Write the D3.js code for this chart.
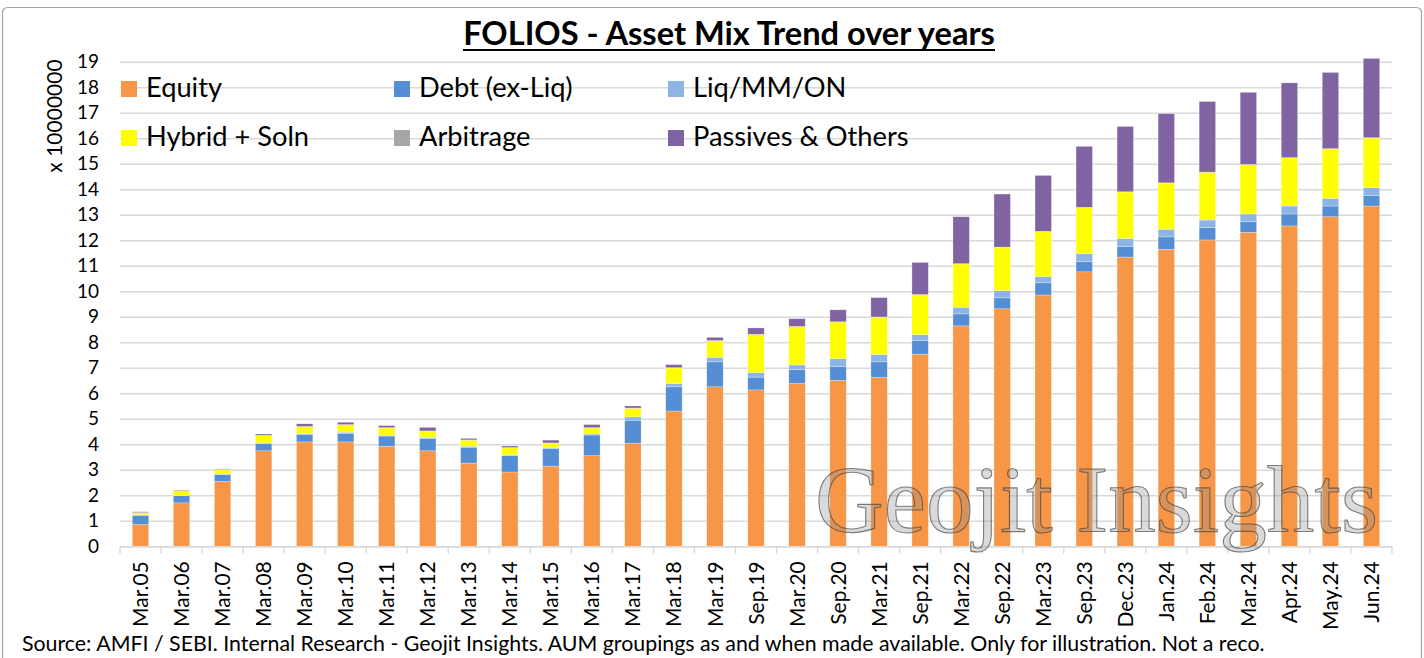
<!DOCTYPE html>
<html>
<head>
<meta charset="utf-8">
<script src="https://cdn.jsdelivr.net/npm/d3@7"></script>
<style>
  html, body { margin: 0; padding: 0; background: #fff; }
  svg { display: block; }
</style>
</head>
<body>
<svg id="chart" width="1424" height="658"></svg>
<script>
// values in units of 1 crore (x 10000000) folios
const categories = ["Mar.05","Mar.06","Mar.07","Mar.08","Mar.09","Mar.10","Mar.11","Mar.12","Mar.13","Mar.14",
  "Mar.15","Mar.16","Mar.17","Mar.18","Mar.19","Sep.19","Mar.20","Sep.20","Mar.21","Sep.21","Mar.22",
  "Sep.22","Mar.23","Sep.23","Dec.23","Jan.24","Feb.24","Mar.24","Apr.24","May.24","Jun.24"];
const equity    = [0.85,1.70,2.54,3.74,4.09,4.09,3.92,3.74,3.26,2.91,3.14,3.55,4.04,5.30,6.25,6.13,6.38,6.50,6.62,7.53,8.64,9.31,9.85,10.76,11.34,11.64,12.01,12.31,12.56,12.92,13.34];
const debt      = [0.36,0.28,0.27,0.28,0.30,0.34,0.40,0.49,0.62,0.64,0.69,0.81,0.90,0.95,0.98,0.50,0.54,0.55,0.61,0.53,0.47,0.43,0.48,0.41,0.42,0.49,0.48,0.42,0.47,0.42,0.42];
const liq       = [0.03,0.02,0.02,0.03,0.03,0.04,0.03,0.04,0.04,0.03,0.03,0.04,0.13,0.13,0.18,0.18,0.19,0.31,0.29,0.24,0.26,0.28,0.24,0.30,0.31,0.30,0.30,0.30,0.31,0.30,0.30];
const hybrid    = [0.08,0.18,0.18,0.29,0.27,0.29,0.29,0.24,0.24,0.28,0.18,0.24,0.34,0.61,0.65,1.49,1.50,1.43,1.46,1.56,1.70,1.70,1.77,1.81,1.82,1.81,1.87,1.93,1.89,1.94,1.95];
const arbitrage = [0,0,0,0.01,0.01,0.01,0.01,0.01,0.01,0.01,0.01,0.01,0.01,0.01,0.01,0.01,0.01,0.01,0.01,0.01,0.01,0.01,0.01,0.01,0.01,0.01,0.01,0.01,0.01,0.01,0.01];
const passives  = [0.03,0.02,0.02,0.05,0.10,0.09,0.08,0.14,0.06,0.06,0.11,0.12,0.08,0.12,0.12,0.25,0.30,0.47,0.76,1.26,1.84,2.08,2.19,2.39,2.56,2.71,2.77,2.83,2.93,2.99,3.11];

const seriesNames = ["Equity","Debt (ex-Liq)","Liq/MM/ON","Hybrid + Soln","Arbitrage","Passives & Others"];
const seriesColors = ["#F79646","#558ED5","#8EB4E3","#FFFF00","#A6A6A6","#8064A2"];
const yTicks = d3.range(0, 20);

const titleText = "FOLIOS - Asset Mix Trend over years";
const yLabel = "x 10000000";
const sourceText = "Source: AMFI / SEBI. Internal Research - Geojit Insights. AUM groupings as and when made available. Only for illustration. Not a reco.";
const watermark = "Geojit Insights";

const svg = d3.select("#chart");
const font = "Lato, 'Open Sans', sans-serif";

// fit the font size of a text so it spans the given width
function fitWidth(sel, target) {
  const w = sel.node().getComputedTextLength();
  const fs = parseFloat(sel.attr("font-size"));
  sel.attr("font-size", fs * target / w);
  return fs * target / w;
}

// outer frame
svg.append("rect")
  .attr("x", 2.5).attr("y", 7.5).attr("width", 1419).attr("height", 680)
  .attr("rx", 5)
  .attr("fill", "#fff").attr("stroke", "#a6a6a6").attr("stroke-width", 1.2);

const table = categories.map((c, i) => ({
  cat: c,
  "Equity": equity[i],
  "Debt (ex-Liq)": debt[i],
  "Liq/MM/ON": liq[i],
  "Hybrid + Soln": hybrid[i],
  "Arbitrage": arbitrage[i],
  "Passives & Others": passives[i]
}));

const x = d3.scaleBand()
  .domain(categories)
  .range([120, 1392])
  .paddingInner(0.6)
  .paddingOuter(0.3);

const y = d3.scaleLinear()
  .domain([0, 19])
  .range([546.2, 61.7]);

const color = d3.scaleOrdinal().domain(seriesNames).range(seriesColors);

// gridlines + y tick labels
const yAxis = svg.append("g")
  .attr("transform", "translate(120,0)")
  .call(d3.axisLeft(y).tickValues(yTicks).tickFormat(d3.format("d"))
    .tickSize(-(1392 - 120)).tickPadding(21));
yAxis.select(".domain").remove();
yAxis.selectAll(".tick line").attr("stroke", "#d9d9d9").attr("stroke-width", 1.4);
yAxis.selectAll(".tick text")
  .attr("font-family", font).attr("font-size", 19).attr("fill", "#000");

// stacked bars
const stacked = d3.stack().keys(seriesNames)(table);
svg.append("g")
  .selectAll("g")
  .data(stacked)
  .enter().append("g")
    .attr("fill", d => color(d.key))
  .selectAll("rect")
  .data(d => d)
  .enter().append("rect")
    .attr("x", d => x(d.data.cat))
    .attr("width", x.bandwidth())
    .attr("y", d => y(d[1]))
    .attr("height", d => Math.max(0, y(d[0]) - y(d[1])))
    .attr("stroke", "#fff").attr("stroke-opacity", 0.45).attr("stroke-width", 0.6);

// x axis with ticks between categories
const step = x.step();
const xAxis = svg.append("g")
  .attr("transform", "translate(0,546.2)")
  .call(d3.axisBottom(x).tickSize(0).tickPadding(0));
xAxis.select(".domain").attr("stroke", "#d9d9d9").attr("stroke-width", 1.4);
xAxis.selectAll(".tick text")
  .attr("font-family", font).attr("font-size", 21).attr("fill", "#000")
  .attr("text-anchor", "end")
  .attr("transform", "translate(0,15) rotate(-90)")
  .attr("dy", "0.36em").attr("dx", 0).attr("y", 0).attr("x", 0);
svg.append("g")
  .selectAll("line")
  .data(d3.range(categories.length + 1))
  .enter().append("line")
    .attr("x1", i => 120 + i * step).attr("x2", i => 120 + i * step)
    .attr("y1", 546.2).attr("y2", 553.5)
    .attr("stroke", "#d9d9d9").attr("stroke-width", 1.4);

// y axis title
svg.append("text")
  .attr("transform", "translate(62,116) rotate(-90)")
  .attr("text-anchor", "middle")
  .attr("font-family", font).attr("font-size", 21).attr("fill", "#000")
  .text(yLabel);

// title
const title = svg.append("text")
  .attr("x", 729).attr("y", 45)
  .attr("text-anchor", "middle")
  .attr("font-family", font).attr("font-weight", "bold").attr("font-size", 32).attr("fill", "#000")
  .text(titleText);
fitWidth(title, 532);
svg.append("line")
  .attr("x1", 463).attr("x2", 995).attr("y1", 50).attr("y2", 50)
  .attr("stroke", "#000").attr("stroke-width", 2);

// legend
const legendPos = [[121, 81], [394, 81], [668, 81], [121, 130], [394, 130], [668, 130]];
const legend = svg.append("g")
  .selectAll("g")
  .data(seriesNames)
  .enter().append("g")
    .attr("transform", (d, i) => `translate(${legendPos[i][0]},${legendPos[i][1]})`);
legend.append("rect")
  .attr("width", 16).attr("height", 16)
  .attr("fill", d => color(d));
const legendText = legend.append("text")
  .attr("x", 25).attr("y", 16)
  .attr("font-family", font).attr("font-size", 26).attr("fill", "#000")
  .text(d => d);
{
  const targets = { "Equity": 75, "Hybrid + Soln": 162, "Passives & Others": 220 };
  let sum = 0, n = 0;
  legendText.each(function(d) {
    if (targets[d]) { sum += 26 * targets[d] / this.getComputedTextLength(); n++; }
  });
  legendText.attr("font-size", sum / n);
}

// watermark
const wm = svg.append("text")
  .attr("x", 815).attr("y", 532)
  .attr("font-family", "'Liberation Serif', 'DejaVu Serif', serif").attr("font-size", 94)
  .attr("fill", "#8c8c8c").attr("fill-opacity", 0.32)
  .attr("stroke", "#404040").attr("stroke-opacity", 0.65).attr("stroke-width", 1.1)
  .text(watermark);
fitWidth(wm, 563);

// source note
const src = svg.append("text")
  .attr("x", 22).attr("y", 651)
  .attr("font-family", font).attr("font-size", 20).attr("fill", "#000")
  .text(sourceText);
fitWidth(src, 1243);
</script>
</body>
</html>
